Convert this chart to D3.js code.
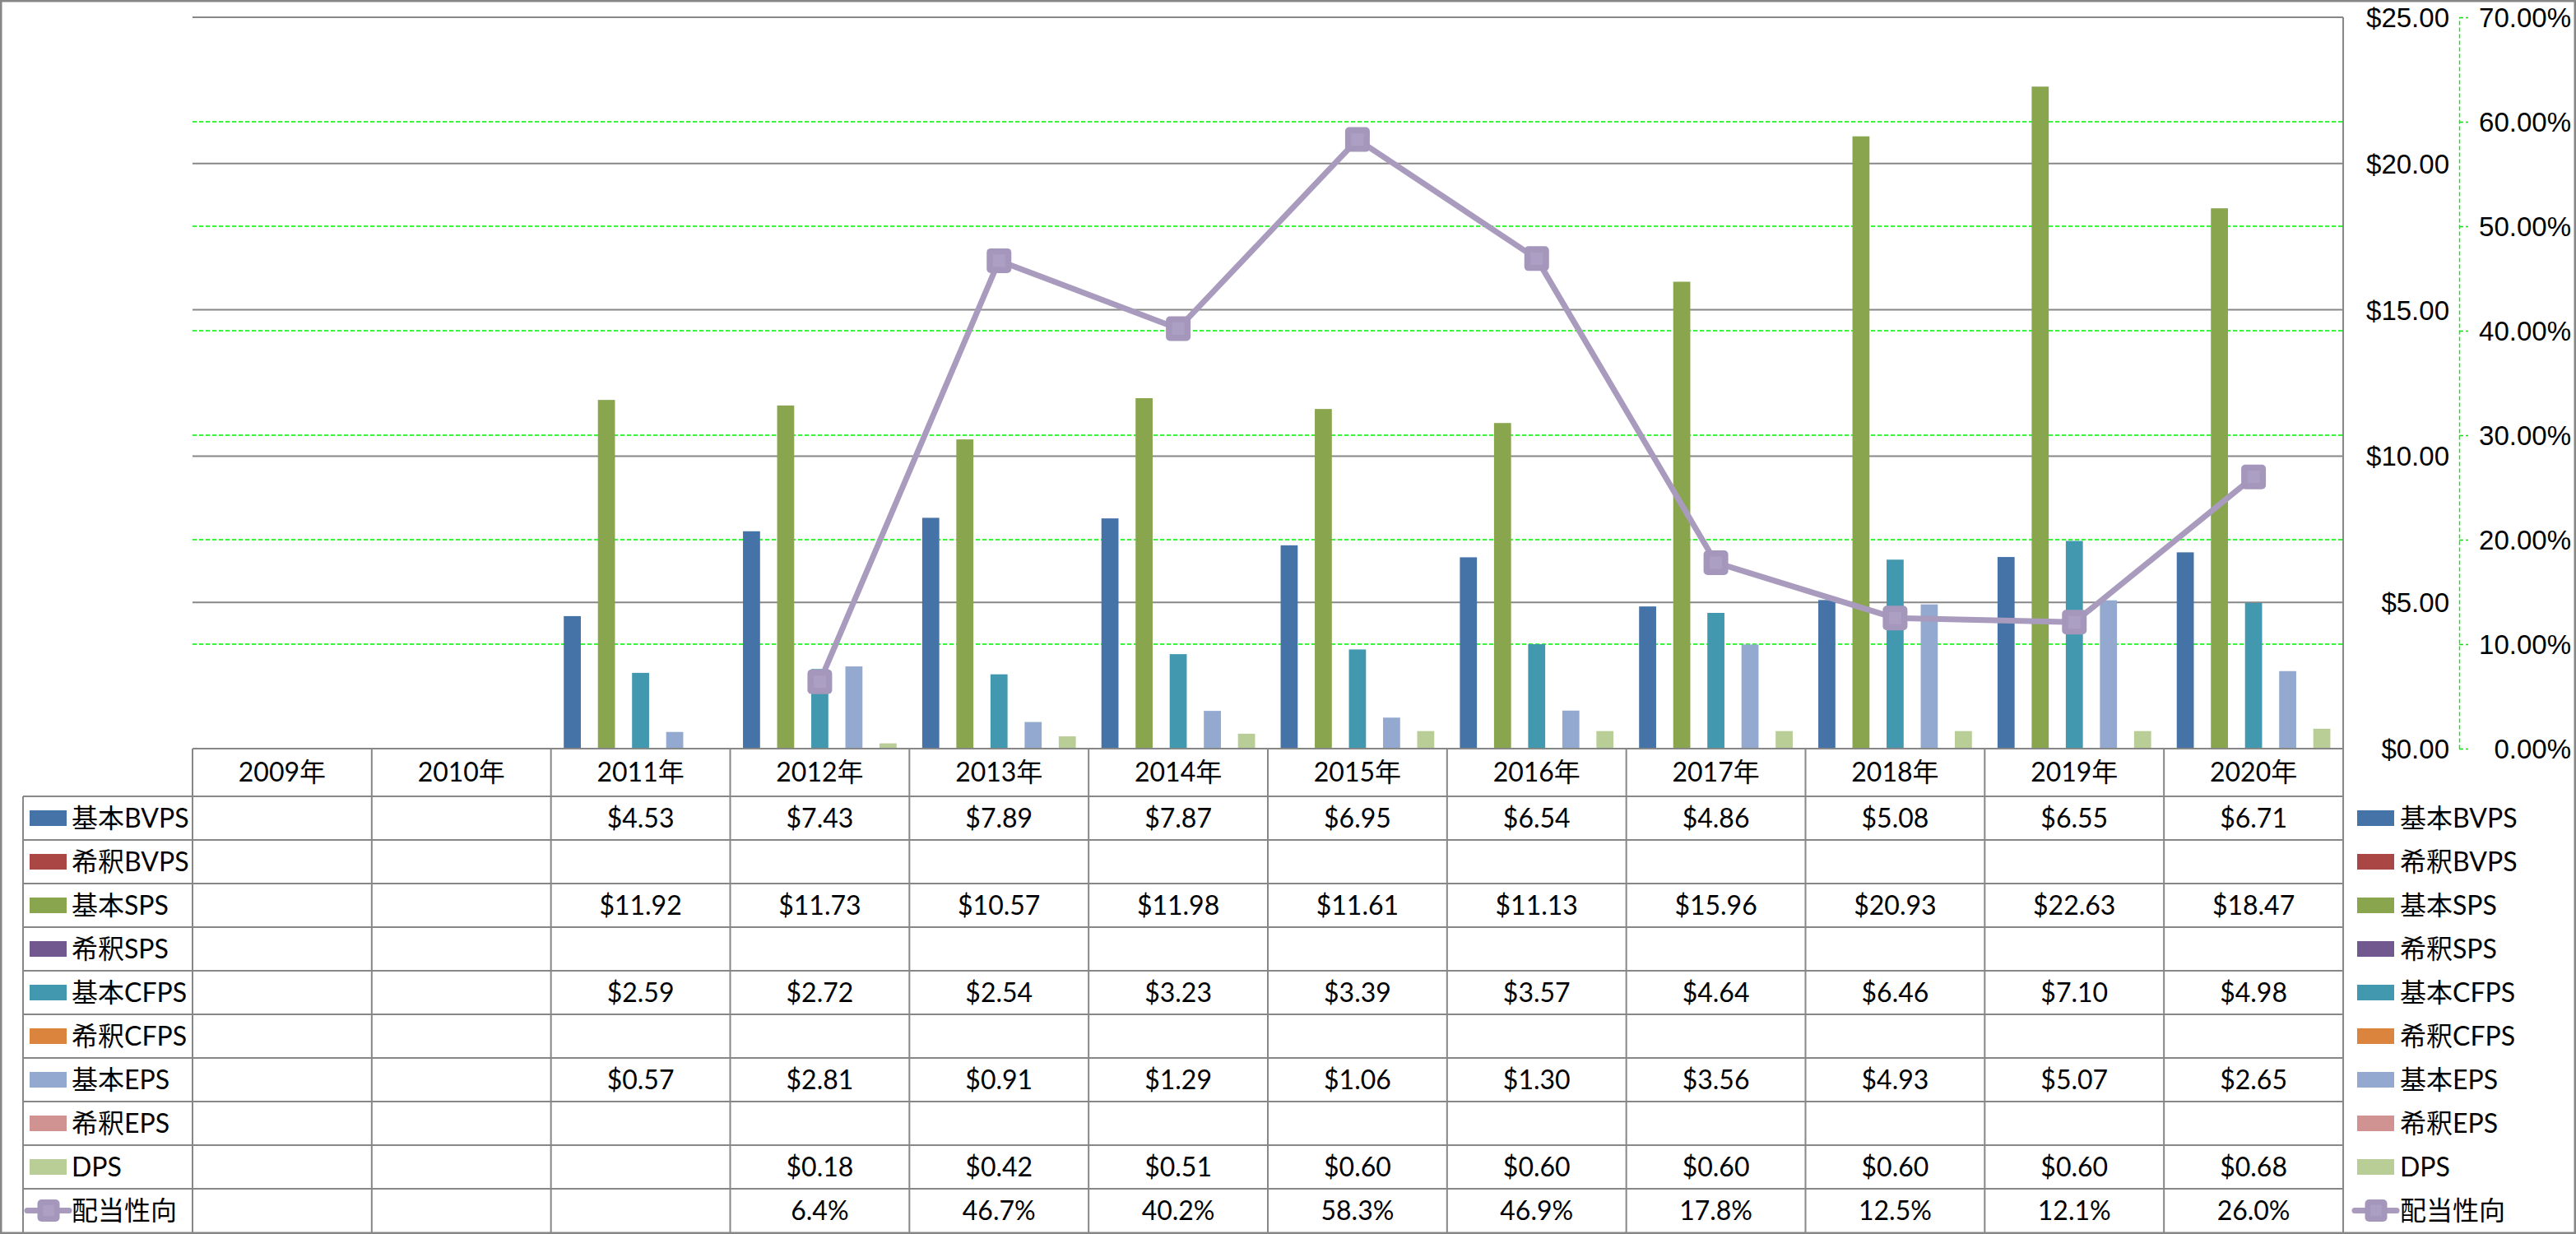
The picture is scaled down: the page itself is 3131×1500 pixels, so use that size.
<!DOCTYPE html>
<html>
<head>
<meta charset="utf-8">
<script src="https://cdn.jsdelivr.net/npm/d3@7.9.0/dist/d3.min.js"></script>
<style>
  body { margin: 0; background: #fff; }
  svg { display: block; font-family: Lato, 'Noto Sans CJK JP', sans-serif; }
</style>
</head>
<body>
<svg id="chart" width="3131" height="1500"></svg>
<script>
const years = ['2009年', '2010年', '2011年', '2012年', '2013年', '2014年', '2015年', '2016年', '2017年', '2018年', '2019年', '2020年'];
const basicBvps = [null, null, 4.53, 7.43, 7.89, 7.87, 6.95, 6.54, 4.86, 5.08, 6.55, 6.71];
const dilutedBvps = [null, null, null, null, null, null, null, null, null, null, null, null];
const basicSps = [null, null, 11.92, 11.73, 10.57, 11.98, 11.61, 11.13, 15.96, 20.93, 22.63, 18.47];
const dilutedSps = [null, null, null, null, null, null, null, null, null, null, null, null];
const basicCfps = [null, null, 2.59, 2.72, 2.54, 3.23, 3.39, 3.57, 4.64, 6.46, 7.10, 4.98];
const dilutedCfps = [null, null, null, null, null, null, null, null, null, null, null, null];
const basicEps = [null, null, 0.57, 2.81, 0.91, 1.29, 1.06, 1.30, 3.56, 4.93, 5.07, 2.65];
const dilutedEps = [null, null, null, null, null, null, null, null, null, null, null, null];
const dps = [null, null, null, 0.18, 0.42, 0.51, 0.60, 0.60, 0.60, 0.60, 0.60, 0.68];
const payoutRatio = [null, null, null, 6.4, 46.7, 40.2, 58.3, 46.9, 17.8, 12.5, 12.1, 26.0];

const seriesNames = ['基本BVPS', '希釈BVPS', '基本SPS', '希釈SPS', '基本CFPS', '希釈CFPS', '基本EPS', '希釈EPS', 'DPS'];
const seriesColors = ['#4572A7', '#AA4643', '#89A54E', '#71588F', '#4198AF', '#DB843D', '#93A9CF', '#D19392', '#B9CD96'];
const lineName = '配当性向';
const lineColor = '#A99BBD';
const priceTicks = [0, 5, 10, 15, 20, 25];
const pctTicks = [0, 10, 20, 30, 40, 50, 60, 70];

const barSeries = [basicBvps, dilutedBvps, basicSps, dilutedSps, basicCfps, dilutedCfps, basicEps, dilutedEps, dps]
  .map((values, i) => ({ name: seriesNames[i], color: seriesColors[i], values }));

// Layout
const svg = d3.select('#chart');
const plotLeft = 234, plotRight = 2848, plotTop = 21, plotBottom = 910;
const tableLeft = 28, headerBottom = 968, rowH = 53;
const gridColor = '#878787';
const fontSize = 32;

const x = d3.scaleBand().domain(years).range([plotLeft, plotRight]).padding(0);
const slot = d3.scaleBand().domain(seriesNames).range([0, x.bandwidth()]).paddingInner(0).paddingOuter(0.75);
const y = d3.scaleLinear().domain([0, 25]).range([plotBottom, plotTop]);
const y2 = d3.scaleLinear().domain([0, 70]).range([plotBottom, plotTop]);

const fmtPrice = d => '$' + d3.format('.2f')(d);
const fmtPct = d => d3.format('.1f')(d) + '%';

// Gridlines: green dashed for the secondary axis, then gray for the primary
svg.append('g')
  .selectAll('line')
  .data(pctTicks.filter(d => d > 0))
  .join('line')
  .attr('x1', plotLeft).attr('x2', plotRight)
  .attr('y1', d => y2(d)).attr('y2', d => y2(d))
  .attr('stroke', '#00EE00').attr('stroke-width', 1.4).attr('stroke-dasharray', '5,3');

svg.append('g')
  .selectAll('line')
  .data(priceTicks.filter(d => d > 0))
  .join('line')
  .attr('x1', plotLeft).attr('x2', plotRight)
  .attr('y1', d => y(d)).attr('y2', d => y(d))
  .attr('stroke', gridColor).attr('stroke-width', 2);

// Bars
barSeries.forEach(s => {
  svg.append('g')
    .selectAll('rect')
    .data(s.values.map((v, i) => ({ year: years[i], v })).filter(d => d.v != null))
    .join('rect')
    .attr('x', d => x(d.year) + slot(s.name))
    .attr('width', slot.bandwidth())
    .attr('y', d => y(d.v))
    .attr('height', d => plotBottom - y(d.v))
    .attr('fill', s.color);
});

// Payout ratio line with square markers
const linePts = payoutRatio.map((v, i) => ({ year: years[i], v })).filter(d => d.v != null);
svg.append('path')
  .datum(linePts)
  .attr('fill', 'none')
  .attr('stroke', lineColor)
  .attr('stroke-width', 7)
  .attr('stroke-linejoin', 'round')
  .attr('d', d3.line().x(d => x(d.year) + x.bandwidth() / 2).y(d => y2(d.v)));

function marker(g, cx, cy, size) {
  g.append('rect')
    .attr('x', cx - size / 2).attr('y', cy - size / 2)
    .attr('width', size).attr('height', size)
    .attr('rx', 5)
    .attr('fill', '#A597BC');
  g.append('rect')
    .attr('x', cx - size / 4).attr('y', cy - size / 4)
    .attr('width', size / 2).attr('height', size / 2)
    .attr('fill', '#AC9FC4');
}
const markers = svg.append('g');
linePts.forEach(d => marker(markers, x(d.year) + x.bandwidth() / 2, y2(d.v), 30));

// Primary axis labels (right side, right-aligned)
const yAxis = svg.append('g')
  .attr('transform', `translate(2977,0)`)
  .call(d3.axisRight(y).tickValues(priceTicks).tickFormat(fmtPrice).tickSize(0).tickPadding(0));
yAxis.select('.domain').remove();
yAxis.selectAll('text')
  .attr('text-anchor', 'end')
  .attr('x', 0)
  .attr('dy', '0.35em')
  .attr('font-size', fontSize + 1)
  .attr('font-family', null)
  .attr('fill', '#000');

// Secondary axis, green dashed
const y2Axis = svg.append('g')
  .attr('transform', `translate(2989,0)`)
  .call(d3.axisRight(y2).tickValues(pctTicks).tickFormat(d => d3.format('.2f')(d) + '%').tickSize(11).tickSizeOuter(0).tickPadding(23));
y2Axis.select('.domain')
  .attr('stroke', '#00EE00').attr('stroke-width', 1.4).attr('stroke-dasharray', '5,3');
y2Axis.selectAll('.tick line')
  .attr('stroke', '#00EE00').attr('stroke-width', 1.4).attr('stroke-dasharray', '5,3');
y2Axis.selectAll('text')
  .attr('text-anchor', 'end')
  .attr('x', 3125 - 2989)
  .attr('dy', '0.35em')
  .attr('font-size', fontSize + 1)
  .attr('font-family', null)
  .attr('fill', '#000');

// Data table
const table = svg.append('g');
const rowCount = barSeries.length + 1;
const tableBottom = headerBottom + rowCount * rowH;

// horizontal lines
table.append('line')
  .attr('x1', plotLeft).attr('x2', plotRight).attr('y1', plotBottom).attr('y2', plotBottom)
  .attr('stroke', gridColor).attr('stroke-width', 2);
table.selectAll('.hrow')
  .data(d3.range(rowCount))
  .join('line')
  .attr('x1', tableLeft).attr('x2', plotRight)
  .attr('y1', i => headerBottom + i * rowH).attr('y2', i => headerBottom + i * rowH)
  .attr('stroke', gridColor).attr('stroke-width', 2);

// vertical lines
table.selectAll('.vcol')
  .data(years)
  .join('line')
  .attr('x1', d => x(d)).attr('x2', d => x(d))
  .attr('y1', plotBottom).attr('y2', tableBottom)
  .attr('stroke', gridColor).attr('stroke-width', 2);
table.append('line')
  .attr('x1', plotRight).attr('x2', plotRight).attr('y1', plotTop).attr('y2', tableBottom)
  .attr('stroke', gridColor).attr('stroke-width', 2);
table.append('line')
  .attr('x1', tableLeft).attr('x2', tableLeft).attr('y1', headerBottom).attr('y2', tableBottom)
  .attr('stroke', gridColor).attr('stroke-width', 2);

// header
table.selectAll('.hdr')
  .data(years)
  .join('text')
  .attr('x', d => x(d) + x.bandwidth() / 2)
  .attr('y', (plotBottom + headerBottom) / 2)
  .attr('dy', '0.35em')
  .attr('text-anchor', 'middle')
  .attr('font-size', fontSize)
  .text(d => d);

// values
const rows = barSeries.map(s => ({ name: s.name, color: s.color, values: s.values, fmt: fmtPrice, line: false }))
  .concat([{ name: lineName, color: lineColor, values: payoutRatio, fmt: fmtPct, line: true }]);

rows.forEach((r, ri) => {
  const cy = headerBottom + ri * rowH + rowH / 2;
  table.append('g')
    .selectAll('text')
    .data(r.values.map((v, i) => ({ year: years[i], v })).filter(d => d.v != null))
    .join('text')
    .attr('x', d => x(d.year) + x.bandwidth() / 2)
    .attr('y', cy)
    .attr('dy', '0.35em')
    .attr('text-anchor', 'middle')
    .attr('font-size', fontSize)
    .text(d => r.fmt(d.v));

  // legend keys in the table and at the right
  [[36, 87], [2865, 2917]].forEach(([kx, tx]) => {
    if (r.line) {
      table.append('line')
        .attr('x1', kx - 3).attr('x2', kx + 48).attr('y1', cy).attr('y2', cy)
        .attr('stroke', lineColor).attr('stroke-width', 7).attr('stroke-linecap', 'round');
      marker(table, kx + 23, cy, 27);
    } else {
      table.append('rect')
        .attr('x', kx).attr('y', cy - 9.5)
        .attr('width', 45).attr('height', 19)
        .attr('fill', r.color);
    }
    table.append('text')
      .attr('x', tx).attr('y', cy)
      .attr('dy', '0.35em')
      .attr('font-size', fontSize)
      .text(r.name);
  });
});

// outer frame
svg.append('rect')
  .attr('x', 1.25).attr('y', 1.25)
  .attr('width', 3131 - 2.5).attr('height', 1500 - 2.5)
  .attr('fill', 'none')
  .attr('stroke', '#878787')
  .attr('stroke-width', 2.5);
</script>
</body>
</html>
